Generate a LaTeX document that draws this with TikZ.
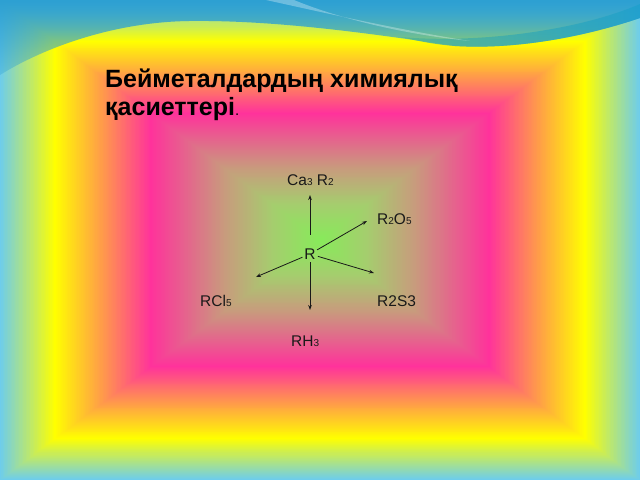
\documentclass[tikz,border=0pt]{standalone}
\usepackage{fontspec}
\setmainfont{Liberation Sans}
\usetikzlibrary{arrows.meta,fadings}
\definecolor{bgBlue}{RGB}{110,205,235}
\definecolor{bgYellow}{RGB}{255,255,0}
\definecolor{bgOrange}{RGB}{255,160,70}
\definecolor{bgPink}{RGB}{255,50,155}
\definecolor{bgTan}{RGB}{200,155,125}
\definecolor{bgLgreen}{RGB}{165,205,110}
\definecolor{bgGreen}{RGB}{135,235,90}
\definecolor{waveBlue}{RGB}{45,160,210}
\definecolor{bandGreen}{RGB}{80,180,150}
\definecolor{bandBlue}{RGB}{30,160,205}
\definecolor{inkDark}{RGB}{25,25,25}
\tikzfading[name=wavefade, top color=transparent!0, middle color=transparent!25, bottom color=transparent!70]
\newcommand\sbs[1]{\raisebox{-0.6pt}{\fontsize{10}{10}\selectfont #1}}
\begin{document}
\begin{tikzpicture}[x=1pt,y=-1pt,
  lbl/.style={anchor=base west, inner sep=0pt, text=inkDark, font=\fontsize{15.5}{16}\selectfont},
  ttl/.style={anchor=base west, inner sep=0pt, text=black, font=\fontsize{25}{27}\selectfont\bfseries},
  arr/.style={draw=inkDark, line width=0.8pt, -{Stealth[length=5pt,width=3.6pt]}}]
\useasboundingbox (0,0) rectangle (640,480);
% rectangular gradient background
\foreach \ta/\tb/\ca/\cb/\n in {1/0.83/bgBlue/bgYellow/40, 0.83/0.69/bgYellow/bgOrange/35, 0.69/0.53/bgOrange/bgPink/40, 0.53/0.30/bgPink/bgTan/55, 0.30/0.15/bgTan/bgLgreen/38, 0.15/0.0/bgLgreen/bgGreen/38}{
  \foreach \i in {0,...,\n}{
    \pgfmathsetmacro\tv{\ta-(\ta-\tb)*\i/\n}
    \pgfmathsetmacro\pp{100*\i/\n}
    \fill[\cb!\pp!\ca] ({320-320*\tv},{240-240*\tv}) rectangle ({320+320*\tv},{240+240*\tv});
  }
}
% top wave
\fill[waveBlue, path fading=wavefade] (0,0) -- (640,0) -- (640,18) .. controls (590,35) and (520,50) .. (455,46) .. controls (380,35) and (280,20) .. (190,21) .. controls (110,22) and (40,50) .. (0,75) -- cycle;
\shade[left color=bandGreen, right color=bandBlue, opacity=0.8] (400,37) .. controls (480,44) and (580,30) .. (640,4) -- (640,18) .. controls (590,35) and (520,50) .. (455,46) .. controls (430,44) and (415,40) .. (400,37) -- cycle;
\fill[white, opacity=0.3] (266,0) .. controls (330,14) and (400,30) .. (470,41) .. controls (400,34) and (335,17) .. (294,0) -- cycle;
% title
\node[ttl] (t1) at (105,87) {Бейметалдардың химиялық};
\node[ttl] (t2) at (105,115) {қасиеттері{\mdseries\fontsize{15}{15}\selectfont .}};
% diagram
\node[lbl] (ca) at (287,185) {Ca\sbs{3} R\sbs{2}};
\node[lbl] (ro) at (377,224) {R\sbs{2}O\sbs{5}};
\node[circle, inner sep=0pt, minimum size=16pt, text=inkDark, font=\fontsize{15.5}{16}\selectfont] (R) at (310,254) {R};
\node[lbl] (rcl) at (200,306) {RCl\sbs{5}};
\node[lbl] (rs) at (377,306) {R2S3};
\node[lbl] (rh) at (291,346) {RH\sbs{3}};
\coordinate (tca) at (310,195);
\coordinate (tro) at (367,221);
\coordinate (tcl) at (256,277);
\coordinate (trs) at (374,273);
\coordinate (trh) at (310,310);
\draw[arr, shorten <=11pt] (R) -- (tca);
\draw[arr] (R) -- (tro);
\draw[arr] (R) -- (tcl);
\draw[arr] (R) -- (trs);
\draw[arr] (R) -- (trh);
\end{tikzpicture}
\end{document}
